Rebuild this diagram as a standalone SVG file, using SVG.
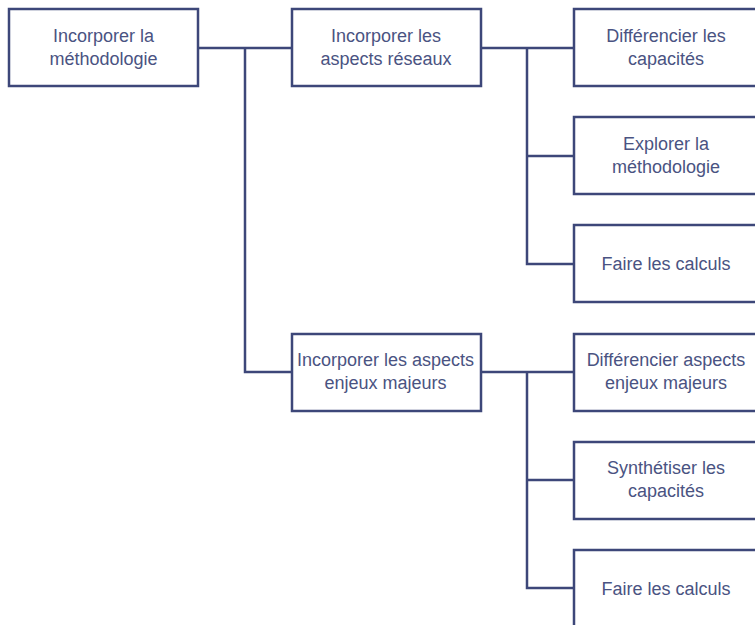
<svg xmlns="http://www.w3.org/2000/svg" width="755" height="625" viewBox="0 0 755 625">
<style>
rect.box{fill:#ffffff;stroke:#3d4779;stroke-width:2.5}
.c{fill:none;stroke:#3d4779;stroke-width:2.5}
text{font-family:"Liberation Sans",Arial,sans-serif;font-size:18px;fill:#4a5382;text-anchor:middle}
</style>
<rect width="755" height="625" fill="#ffffff"/>
<g id="connectors">
<path class="c" d="M198,48 H292 M245,48 V372 H292"/>
<path class="c" d="M481,48 H574 M527,48 V264 H574 M527,156 H574"/>
<path class="c" d="M481,372 H574 M527,372 V588 H574 M527,480 H574"/>
</g>
<g id="n1"><rect class="box" x="9" y="9" width="189" height="77"/><text x="103.5" y="42">Incorporer la</text><text x="103.5" y="64.5">méthodologie</text></g>
<g id="n2"><rect class="box" x="292" y="9" width="189" height="77"/><text x="386" y="42">Incorporer les</text><text x="386" y="64.5">aspects réseaux</text></g>
<g id="n3"><rect class="box" x="292" y="334" width="189" height="77"/><text x="385.5" y="366">Incorporer les aspects</text><text x="385.5" y="388.5">enjeux majeurs</text></g>
<g id="n4"><rect class="box" x="574" y="9" width="189" height="77"/><text x="666" y="42">Différencier les</text><text x="666" y="64.5">capacités</text></g>
<g id="n5"><rect class="box" x="574" y="117" width="189" height="77"/><text x="666" y="150">Explorer la</text><text x="666" y="172.5">méthodologie</text></g>
<g id="n6"><rect class="box" x="574" y="225" width="189" height="77"/><text x="666" y="270">Faire les calculs</text></g>
<g id="n7"><rect class="box" x="574" y="334" width="189" height="77"/><text x="666" y="366">Différencier aspects</text><text x="666" y="388.5">enjeux majeurs</text></g>
<g id="n8"><rect class="box" x="574" y="442" width="189" height="77"/><text x="666" y="474">Synthétiser les</text><text x="666" y="496.5">capacités</text></g>
<g id="n9"><rect class="box" x="574" y="550" width="189" height="77"/><text x="666" y="595">Faire les calculs</text></g>
</svg>
